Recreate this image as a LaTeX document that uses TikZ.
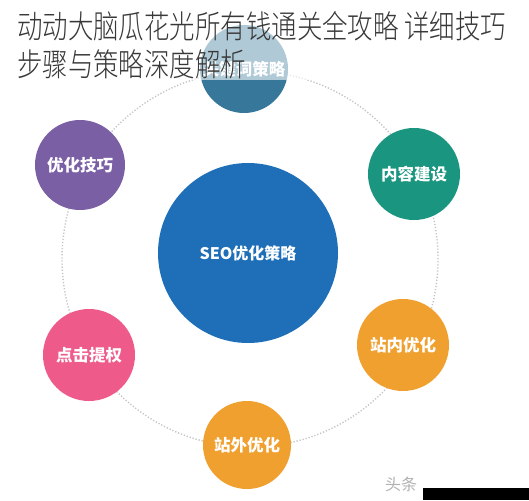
\documentclass[tikz,border=0pt]{standalone}
\usepackage{fontspec}
\newfontfamily\cjk{Noto Sans CJK SC}
\IfFontExistsTF{Noto Sans CJK SC Light}{\newfontfamily\cjktitle{Noto Sans CJK SC Light}}{\newfontfamily\cjktitle{Noto Sans CJK SC}}
\definecolor{ringgray}{HTML}{C4C4C4}
\definecolor{seoblue}{HTML}{1E6FB7}
\definecolor{topblue}{HTML}{37789A}
\definecolor{purp}{HTML}{7A5FA5}
\definecolor{teal}{HTML}{1A957F}
\definecolor{orng}{HTML}{F0A02E}
\definecolor{pinkc}{HTML}{EE5B8B}
\definecolor{titlegray}{HTML}{383838}
\begin{document}
\begin{tikzpicture}[x=1pt,y=-1pt,
  bub/.style={circle, minimum size=#1, inner sep=0pt, text=white,
    font=\cjk\bfseries\fontsize{16.5}{18}\selectfont},
  ringstyle/.style={circle, draw=ringgray, line width=1.4pt,
    dash pattern=on 1.2pt off 1.9pt, minimum size=#1, inner sep=0pt},
  titletext/.style={anchor=base west, inner sep=0pt, text=titlegray,
    font=\cjktitle\fontsize{32}{36}\selectfont, xscale=0.795}
]
\useasboundingbox (0,0) rectangle (529,500);
\fill[white] (0,0) rectangle (529,500);
\node[ringstyle=376pt] (ring) at (250,259) {};
\node[bub=180pt, fill=seoblue, font=\cjk\bfseries\fontsize{16}{18}\selectfont] (seo) at (248,253) {SEO优化策略};
\node[bub=88pt, fill=topblue] (kw) at (244,69) {关键词策略};
\node[bub=90pt, fill=purp] (yh) at (80,165) {优化技巧};
\node[bub=92pt, fill=teal] (nr) at (414,174) {内容建设};
\node[bub=92pt, fill=orng] (zn) at (403,345) {站内优化};
\node[bub=88pt, fill=orng] (zw) at (247,445) {站外优化};
\node[bub=92pt, fill=pinkc] (dj) at (89,355) {点击提权};
\fill[white, opacity=0.6] (0,0) rectangle (529,80);
\node[titletext] (t1) at (17,39) {动动大脑瓜花光所有钱通关全攻略 详细技巧};
\node[titletext] (t2) at (17,77) {步骤与策略深度解析};
\node[anchor=base west, inner sep=0pt, text=black!30, font=\cjk\fontsize{16}{18}\selectfont] (wm) at (385,490) {头条};
\fill[black] (423,488) rectangle (529,500);
\end{tikzpicture}
\end{document}
